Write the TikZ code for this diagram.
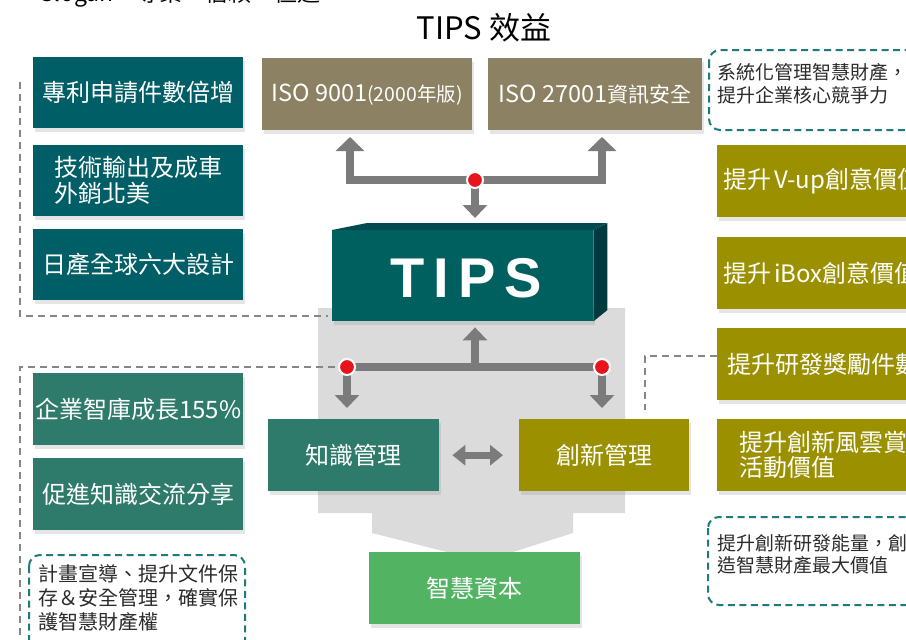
\documentclass[tikz,border=0pt]{standalone}
\usepackage{fontspec}
\setmainfont{Noto Sans CJK TC}
\newfontfamily\tipsfont{Liberation Sans}
\usetikzlibrary{arrows.meta,shadows,calc}
\definecolor{tealA}{HTML}{005E66}
\definecolor{khaki}{HTML}{8C8163}
\definecolor{olivebx}{HTML}{9B9100}
\definecolor{greenteal}{HTML}{2F7B6B}
\definecolor{capgreen}{HTML}{52B363}
\definecolor{bggray}{HTML}{DBDBDB}
\definecolor{arrgray}{HTML}{7B7B7B}
\definecolor{dashteal}{HTML}{1F7A7C}
\definecolor{dashgray}{HTML}{868686}
\definecolor{dotred}{HTML}{E8141B}
\definecolor{txtdark}{HTML}{2B2B2B}
\definecolor{tipsfront}{HTML}{00605F}
\definecolor{tipstop}{HTML}{004B4F}
\definecolor{tipsside}{HTML}{003A3E}
\tikzset{
  fbox/.style={anchor=north west, inner sep=0pt, text=white,
    font=\fontsize{24}{26}\selectfont,
    drop shadow={shadow xshift=2pt,shadow yshift=-4pt,opacity=0.2}},
  tealbox/.style={fbox, fill=tealA, minimum width=210pt, minimum height=71pt},
  gtbox/.style={fbox, fill=greenteal, minimum width=210pt, minimum height=72pt},
  isobox/.style={fbox, fill=khaki, minimum height=72pt, font=\fontsize{23.5}{26}\selectfont},
  rbox/.style={fbox, fill=olivebx, minimum height=72pt, text width=205pt, align=left, inner xsep=6pt},
  midbox/.style={fbox, minimum width=171pt, minimum height=72pt},
  gline/.style={draw=arrgray, line width=8pt, line join=miter},
  garrow/.style={gline, -{Triangle[width=26pt,length=14pt]}},
  dblarrow/.style={draw=arrgray, line width=7pt, {Triangle[width=20pt,length=13pt]}-{Triangle[width=20pt,length=13pt]}},
  gdash/.style={draw=dashgray, line width=2pt, dash pattern=on 7pt off 5pt},
  tdash/.style={draw=dashteal, line width=2pt, dash pattern=on 7pt off 4.5pt, rounded corners=11pt},
  dtext/.style={anchor=north west, inner sep=0pt, align=left, text=txtdark},
  reddot/.style={circle, fill=dotred, draw=white, line width=2pt, minimum size=16pt, inner sep=0pt}
}
\begin{document}
\begin{tikzpicture}[x=1pt,y=-1pt]
\useasboundingbox (0,0) rectangle (906,640);
\clip (0,0) rectangle (906,640);
\fill[white] (0,0) rectangle (906,640);

% header texts
\node[anchor=base west, inner sep=0pt, font=\fontsize{23}{23}\selectfont] (slogan) at (40,1) {Slogan：專業．信賴．極速};
\node[anchor=base, inner sep=0pt, font=\fontsize{31}{31}\selectfont] (title) at (484,39) {TIPS 效益};

% gray funnel background
\fill[bggray] (318,308) -- (625,308) -- (625,513) -- (573,513) -- (573,533) -- (513,552)
  -- (447,552) -- (372,533) -- (372,513) -- (318,513) -- cycle;

% dashed gray guide lines
\coordinate (lb1) at (20,82);
\coordinate (lb2) at (328,316);
\draw[gdash] (lb1) |- (lb2);

% left boxes
\node[tealbox] (k1) at (33,57) {專利申請件數倍增};
\node[tealbox, align=left] (k2) at (33,145) {技術輸出及成車\\外銷北美};
\node[tealbox] (k3) at (33,229) {日產全球六大設計};

% ISO boxes
\node[isobox, minimum width=210pt] (iso1) at (262,58) {ISO 9001{\fontsize{19.5}{20}\selectfont(2000年版)}};
\node[isobox, minimum width=214pt] (iso2) at (488,58) {ISO 27001{\fontsize{21}{22}\selectfont 資訊安全}};

% top-right dashed note
\draw[tdash] (709,50) rectangle (950,130);
\node[dtext, font=\fontsize{19}{23}\selectfont] (n1) at (717,63) {系統化管理智慧財產，\\提升企業核心競爭力};

% right olive boxes
\node[rbox] (r1) at (717,145) {提升\hspace{3pt}V-up創意價值};
\node[rbox] (r2) at (717,237) {提升\hspace{3pt}iBox創意價值};
\node[rbox, inner xsep=10pt, text width=200pt] (r3) at (717,328) {提升研發獎勵件數};
\node[rbox, inner xsep=22pt, text width=190pt, font=\fontsize{24}{25}\selectfont] (r4) at (717,419) {提升創新風雲賞\\活動價值};

% bottom-right dashed note
\draw[tdash] (708,517) rectangle (950,605);
\node[dtext, font=\fontsize{19}{22}\selectfont] (n2) at (717,534) {提升創新研發能量，創\\造智慧財產最大價值};

% left lower boxes
\node[gtbox] (g1) at (33,373) {企業智庫成長155\%};
\node[gtbox] (g2) at (33,458) {促進知識交流分享};

% bottom-left dashed note
\draw[tdash] (29,555) rectangle (245,680);
\node[dtext, font=\fontsize{20}{24}\selectfont] (n3) at (38,564) {計畫宣導、提升文件保\\存＆安全管理，確實保\\護智慧財產權};

% TIPS 3D block
\node[anchor=north west, fill=tipsfront, minimum width=261pt, minimum height=91pt, inner sep=0pt,
  drop shadow={shadow xshift=2pt,shadow yshift=-4pt,opacity=0.2}] (tips) at (332,230) {};
\fill[tipstop] (tips.north west) -- ++(35,-7) -- ++(240,0) -- (tips.north east) -- cycle;
\fill[tipsside] (tips.north east) -- ++(14,-7) -- ++(0,87) -- (tips.south east) -- cycle;
\node[text=white, font=\tipsfont\bfseries\fontsize{56}{56}\selectfont, inner sep=0pt] (tipslabel) at (466,278) {T\kern9pt I\kern9pt P\kern9pt S};

% middle boxes
\node[midbox, fill=greenteal] (km) at (268,419) {知識管理};
\node[midbox, fill=olivebx, minimum width=170pt] (im) at (519,419) {創新管理};
\node[fbox, fill=capgreen, minimum width=211pt, minimum height=72pt] (cap) at (369,552) {智慧資本};

% top connector
\coordinate (jt) at (475,180);
\coordinate (tl) at (350,137);
\coordinate (tr) at (602,137);
\draw[gline, {Triangle[width=28pt,length=14pt]}-{Triangle[width=28pt,length=14pt]}] (tl) -- (tl |- jt) -- (tr |- jt) -- (tr);
\draw[garrow, -{Triangle[width=24pt,length=13pt]}] (jt) -- ($(jt |- tips.north)+(0,-12)$);

% lower connector
\coordinate (jl) at (347,367);
\coordinate (jr) at (602,367);
\coordinate (jm) at (475,367);
\coordinate (lb3) at (20,645);
\coordinate (rb) at (645,410);
\draw[gdash] (jl) -| (lb3);
\draw[gdash] ($(r3.west)+(0,-8)$) -| (rb);
\draw[gline] (jl) -- (jr);
\draw[garrow, -{Triangle[width=24pt,length=13pt]}] (jm) -- ($(tips.south -| jm)+(0,6)$);
\draw[garrow, -{Triangle[width=24pt,length=13pt]}] (jl) -- ($(km.north -| jl)+(0,-11)$);
\draw[garrow, -{Triangle[width=24pt,length=13pt]}] (jr) -- ($(im.north -| jr)+(0,-11)$);
\draw[dblarrow] ($(km.east)+(13,0)$) -- ($(im.west)+(-16,0)$);

% red junction dots
\node[reddot] (dt) at (jt) {};
\node[reddot] (dl) at (jl) {};
\node[reddot] (dr) at (jr) {};
\end{tikzpicture}
\end{document}
